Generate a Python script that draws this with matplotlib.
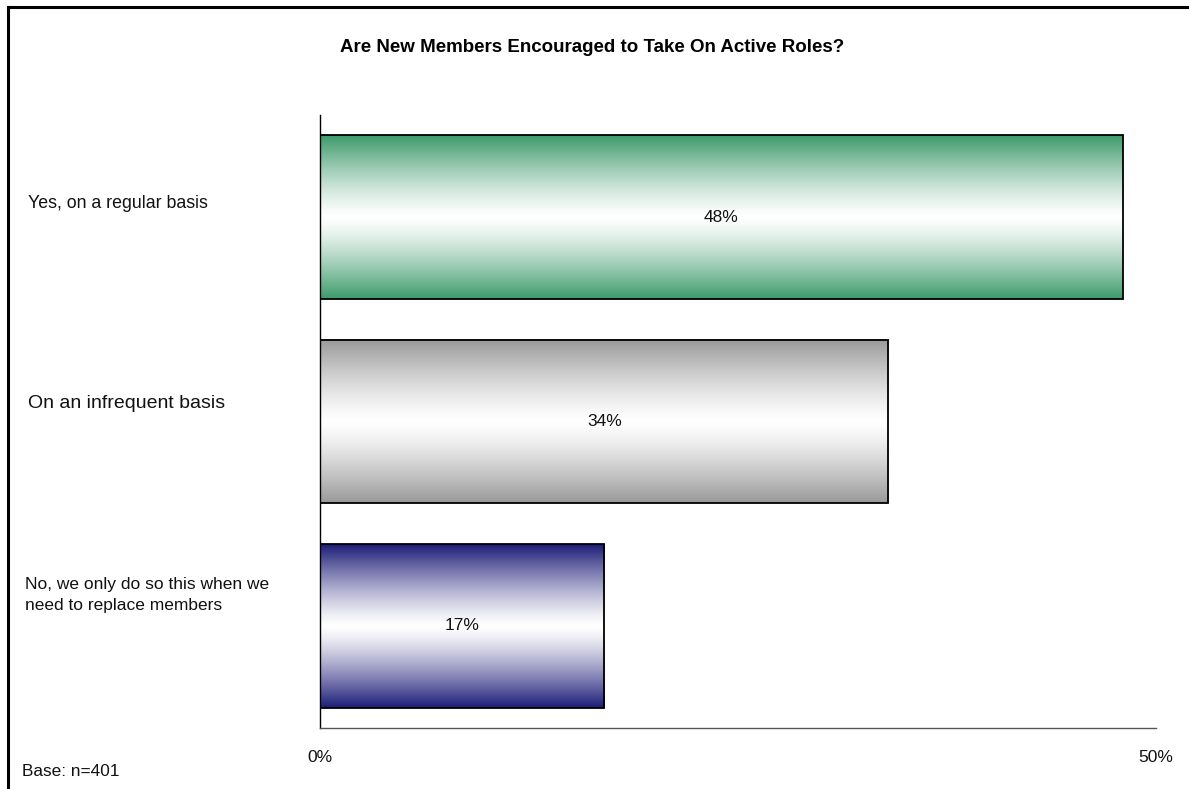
import numpy as np
import matplotlib
matplotlib.use("Agg")
import matplotlib.pyplot as plt
import matplotlib.transforms as mtransforms
from matplotlib.colors import to_rgb
from matplotlib.lines import Line2D

plt.rcParams['font.family'] = ['Liberation Sans', 'DejaVu Sans']

# Survey answers and shares (percent)
categories = [
    "Yes, on a regular basis",
    "On an infrequent basis",
    "No, we only do so this when we\nneed to replace members",
]
values = [48, 34, 17]
value_labels = ["48%", "34%", "17%"]
bar_colors = ["#3d9a6b", "#999999", "#1c1c78"]
xticks = [0, 50]
xtick_labels = ["0%", "50%"]
title = "Are New Members Encouraged to Take On Active Roles?"
base_note = "Base: n=401"

W, H, DPI = 1189, 789, 100
fig = plt.figure(figsize=(W / DPI, H / DPI), dpi=DPI)
fig.patch.set_facecolor("white")

# plot area in pixel coordinates
left_px, right_px, top_px, bottom_px = 320, 1156, 115, 728
ax = fig.add_axes([left_px / W, 1 - bottom_px / H,
                   (right_px - left_px) / W, (bottom_px - top_px) / H])

bar_h = 0.80
ypos = np.arange(len(categories))


def gradient_image(color, n=256, power=1.3):
    """Vertical gradient: colour at both edges, white at the middle."""
    t = np.abs(np.linspace(-1, 1, n)) ** power
    c = np.array(to_rgb(color))
    img = 1 - t[:, None] * (1 - c[None, :])
    return img[:, None, :]


for y, v, col in zip(ypos, values, bar_colors):
    ax.imshow(gradient_image(col), extent=(0, v, y + bar_h / 2, y - bar_h / 2),
              aspect="auto", interpolation="bilinear", zorder=2)
    ax.barh(y, v, height=bar_h, facecolor="none", edgecolor="black",
            linewidth=1.3, zorder=3)

ax.set_xlim(0, 50)
ax.set_ylim(len(categories) - 0.5, -0.5)

for y, v, lab in zip(ypos, values, value_labels):
    ax.text(v / 2, y, lab, ha="center", va="center", fontsize=12.5,
            color="#111111", zorder=4)

# axes styling
for s in ("top", "right"):
    ax.spines[s].set_visible(False)
ax.spines["left"].set_color("black")
ax.spines["left"].set_linewidth(1.0)
ax.spines["bottom"].set_color("#555555")
ax.spines["bottom"].set_linewidth(1.0)
ax.set_xticks(xticks)
ax.set_xticklabels(xtick_labels, fontsize=12.5, color="#111111")
ax.tick_params(axis="x", length=0, pad=16)
ax.set_yticks([])

# category labels, left-aligned near the figure edge
label_sizes = [12.8, 14, 12.5]
label_x_px = [28, 28, 25]
label_shift_pt = [10, 13, 22]
for y, cat, fs, lx, sh in zip(ypos, categories, label_sizes, label_x_px, label_shift_pt):
    trans = mtransforms.blended_transform_factory(fig.transFigure, ax.transData)
    trans = trans + mtransforms.ScaledTranslation(0, sh / 72, fig.dpi_scale_trans)
    ax.text(lx / W, y, cat, transform=trans, ha="left", va="center",
            fontsize=fs, color="#111111", linespacing=1.5, clip_on=False)

fig.text(592 / W, 1 - 47 / H, title, ha="center", va="center",
         fontsize=13.5, fontweight="bold", color="black")
fig.text(22 / W, 1 - 772 / H, base_note, ha="left", va="center",
         fontsize=12.4, color="#111111")

# outer frame (left and top edges)
fig.add_artist(Line2D([8 / W, 8 / W], [0, 1 - 7 / H], transform=fig.transFigure,
                      color="black", linewidth=2.2))
fig.add_artist(Line2D([8 / W, 1], [1 - 7 / H, 1 - 7 / H], transform=fig.transFigure,
                      color="black", linewidth=2.2))

fig.savefig("out.png", dpi=DPI, facecolor="white")
